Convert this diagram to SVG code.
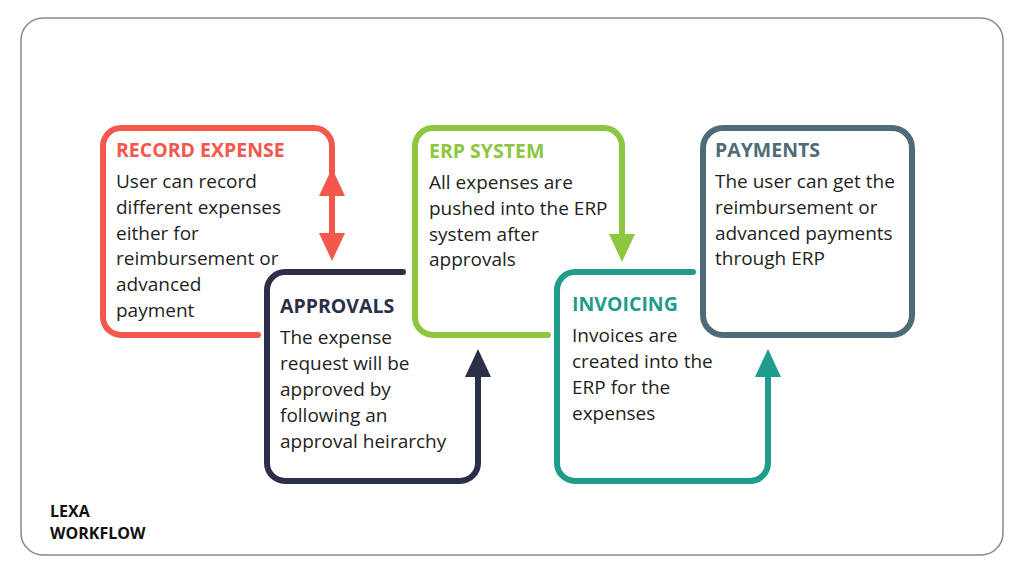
<svg xmlns="http://www.w3.org/2000/svg" width="1024" height="576" viewBox="0 0 1024 576">
<style>
.frame{fill:#fff;stroke:#8a8a8a;stroke-width:1.5}
.box{fill:none;stroke-width:6;stroke-linecap:round;stroke-linejoin:round}
.t{font-family:"Open Sans","Noto Sans","Liberation Sans",sans-serif;font-weight:700;font-size:19.5px}
.b{font-family:"Open Sans","Noto Sans","Liberation Sans",sans-serif;font-size:19px;fill:#231f20}
.lbl{font-family:"Open Sans","Noto Sans","Liberation Sans",sans-serif;font-weight:700;font-size:16px;fill:#111}
.red{stroke:#f4574b}.green{stroke:#8dc63f}.navy{stroke:#2c2f48}.teal{stroke:#1f9c8a}.slate{stroke:#4e6b78}
</style>
<defs>
<marker id="ar-red" markerUnits="userSpaceOnUse" viewBox="0 0 28 26" refX="0" refY="13" markerWidth="28" markerHeight="26" orient="auto-start-reverse"><path d="M0,0 L28,13 L0,26 z" fill="#f4574b"/></marker>
<marker id="ar-green" markerUnits="userSpaceOnUse" viewBox="0 0 28 26" refX="0" refY="13" markerWidth="28" markerHeight="26" orient="auto"><path d="M0,0 L28,13 L0,26 z" fill="#8dc63f"/></marker>
<marker id="ar-navy" markerUnits="userSpaceOnUse" viewBox="0 0 28 26" refX="0" refY="13" markerWidth="28" markerHeight="26" orient="auto"><path d="M0,0 L28,13 L0,26 z" fill="#2c2f48"/></marker>
<marker id="ar-teal" markerUnits="userSpaceOnUse" viewBox="0 0 28 26" refX="0" refY="13" markerWidth="28" markerHeight="26" orient="auto"><path d="M0,0 L28,13 L0,26 z" fill="#1f9c8a"/></marker>
</defs>
<rect class="frame" x="21" y="18" width="982" height="537" rx="22"/>

<g id="record-expense">
<path class="box red" d="M258 335 H121 A18 18 0 0 1 103 317 V146 A18 18 0 0 1 121 128 H314 A18 18 0 0 1 332 146 V172"/>
<text class="t" x="116" y="157" fill="#f4574b">RECORD EXPENSE</text>
<text class="b" x="116" y="188">User can record</text>
<text class="b" x="116" y="214">different expenses</text>
<text class="b" x="116" y="240">either for</text>
<text class="b" x="116" y="265">reimbursement or</text>
<text class="b" x="116" y="291">advanced</text>
<text class="b" x="116" y="317">payment</text>
</g>

<g id="erp-system">
<path class="box green" d="M548 335 H433 A18 18 0 0 1 415 317 V146 A18 18 0 0 1 433 128 H604 A18 18 0 0 1 622 146 V205"/>
<text class="t" x="429" y="158" fill="#8dc63f">ERP SYSTEM</text>
<text class="b" x="429" y="189">All expenses are</text>
<text class="b" x="429" y="215">pushed into the ERP</text>
<text class="b" x="429" y="241">system after</text>
<text class="b" x="429" y="266">approvals</text>
</g>

<g id="payments">
<rect class="box slate" x="703" y="128" width="209" height="207" rx="20"/>
<text class="t" x="715" y="157" fill="#4e6b78">PAYMENTS</text>
<text class="b" x="715" y="188">The user can get the</text>
<text class="b" x="715" y="214">reimbursement or</text>
<text class="b" x="715" y="240">advanced payments</text>
<text class="b" x="715" y="265">through ERP</text>
</g>

<g id="approvals">
<path class="box navy" d="M403 272 H285 A18 18 0 0 0 267 290 V463 A18 18 0 0 0 285 481 H460 A18 18 0 0 0 478 463 V410"/>
<text class="t" x="280" y="313" fill="#2c2f48">APPROVALS</text>
<text class="b" x="280" y="344">The expense</text>
<text class="b" x="280" y="370">request will be</text>
<text class="b" x="280" y="396">approved by</text>
<text class="b" x="280" y="422">following an</text>
<text class="b" x="280" y="448">approval heirarchy</text>
</g>

<g id="invoicing">
<path class="box teal" d="M693 272 H575 A18 18 0 0 0 557 290 V463 A18 18 0 0 0 575 481 H750 A18 18 0 0 0 768 463 V410"/>
<text class="t" x="572" y="311" fill="#1f9c8a">INVOICING</text>
<text class="b" x="572" y="342">Invoices are</text>
<text class="b" x="572" y="368">created into the</text>
<text class="b" x="572" y="394">ERP for the</text>
<text class="b" x="572" y="420">expenses</text>
</g>

<g id="connectors">
<path class="box red" d="M332 196 V233" marker-start="url(#ar-red)" marker-end="url(#ar-red)" stroke-linecap="butt"/>
<path class="box green" d="M622 200 V234" marker-end="url(#ar-green)" stroke-linecap="butt"/>
<path class="box navy" d="M478 415 V377" marker-end="url(#ar-navy)" stroke-linecap="butt"/>
<path class="box teal" d="M768 415 V377" marker-end="url(#ar-teal)" stroke-linecap="butt"/>
</g>

<text class="lbl" x="50" y="517">LEXA</text>
<text class="lbl" x="50" y="539">WORKFLOW</text>
</svg>
